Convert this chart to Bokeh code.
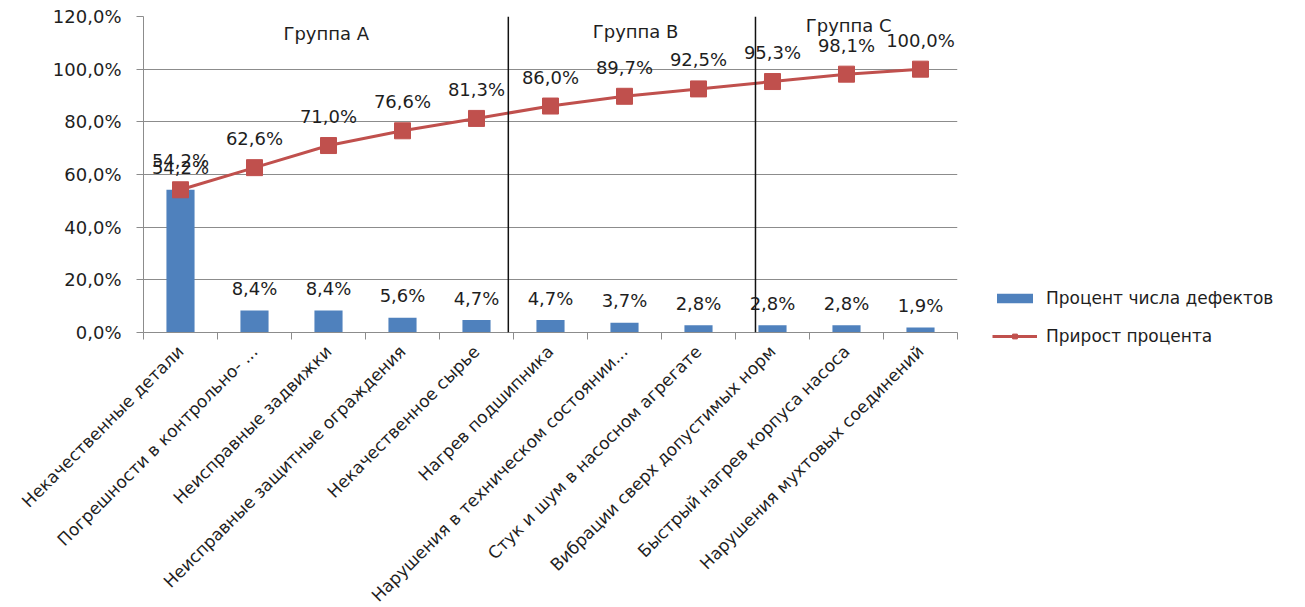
import math
from bokeh.plotting import figure
from bokeh.models import (ColumnDataSource, Range1d, FixedTicker, LabelSet, Legend,
                          LegendItem, Span)
from bokeh.core.properties import value
from bokeh.embed import file_html
from bokeh.resources import INLINE

categories = [
    "Некачественные детали",
    "Погрешности в контрольно- ...",
    "Неисправные задвижки",
    "Неисправные защитные ограждения",
    "Некачественное сырье",
    "Нагрев подшипника",
    "Нарушения в техническом состоянии...",
    "Стук и шум в насосном агрегате",
    "Вибрации сверх допустимых норм",
    "Быстрый нагрев корпуса насоса",
    "Нарушения мухтовых соединений",
]
defect_pct = [54.2, 8.4, 8.4, 5.6, 4.7, 4.7, 3.7, 2.8, 2.8, 2.8, 1.9]
cumulative_pct = [54.2, 62.6, 71.0, 76.6, 81.3, 86.0, 89.7, 92.5, 95.3, 98.1, 100.0]
y_ticks = [0, 20, 40, 60, 80, 100, 120]
y_tick_labels = ["0,0%", "20,0%", "40,0%", "60,0%", "80,0%", "100,0%", "120,0%"]
group_names = ["Группа А", "Группа В", "Группа С"]
group_label_x = [2.47, 6.65, 9.53]
group_label_y = [113.5, 114.3, 116.6]
group_bounds = [4.93, 8.27]

FONT = "DejaVu Sans"
TXT = "#1e1e1e"
BLUE = "#4F81BD"
RED = "#C0504D"
GRID = "#8c8c8c"

def fmt(v):
    return f"{v:.1f}".replace(".", ",") + "%"

n = len(categories)
centers = [i + 0.5 for i in range(n)]
bounds = [i for i in range(n + 1)]

src = ColumnDataSource(dict(
    x=centers, bar=defect_pct, cum=cumulative_pct,
    bar_lbl=[fmt(v) for v in defect_pct], cum_lbl=[fmt(v) for v in cumulative_pct],
))

p = figure(frame_width=814, frame_height=316, output_backend="svg", toolbar_location=None,
           x_range=Range1d(0, n), y_range=Range1d(0, 120),
           min_border_left=143, min_border_top=16, min_border_bottom=273,
           min_border_right=0)
p.outline_line_color = None
p.background_fill_color = "white"
p.border_fill_color = "white"

# grid
p.xgrid.grid_line_color = None
p.ygrid.ticker = FixedTicker(ticks=y_ticks)
p.ygrid.grid_line_color = GRID
p.ygrid.grid_line_width = 1

# y axis
p.yaxis.ticker = FixedTicker(ticks=y_ticks)
p.yaxis.major_label_overrides = {t: l for t, l in zip(y_ticks, y_tick_labels)}
p.yaxis.axis_line_color = GRID
p.yaxis.major_tick_line_color = GRID
p.yaxis.major_tick_in = 0
p.yaxis.major_tick_out = 7
p.yaxis.minor_tick_line_color = None
p.yaxis.major_label_text_font = FONT
p.yaxis.major_label_text_font_size = "18px"
p.yaxis.major_label_text_color = TXT
p.yaxis.major_label_standoff = 15

# x axis
p.xaxis.ticker = FixedTicker(ticks=centers, minor_ticks=bounds)
p.xaxis.major_label_overrides = {c: l for c, l in zip(centers, categories)}
p.xaxis.major_label_orientation = math.pi / 4
p.xaxis.axis_line_color = GRID
p.xaxis.major_tick_line_color = None
p.xaxis.minor_tick_line_color = GRID
p.xaxis.minor_tick_in = 0
p.xaxis.minor_tick_out = 7
p.xaxis.major_label_text_font = FONT
p.xaxis.major_label_text_font_size = "17px"
p.xaxis.major_label_text_color = TXT
p.xaxis.major_label_standoff = 9

# group separators
for b in group_bounds:
    p.add_layout(Span(location=b, dimension="height", line_color="#111111", line_width=1.5))

bars = p.vbar(x="x", top="bar", width=0.38, source=src, fill_color=BLUE, line_color=None)
line = p.line(x="x", y="cum", source=src, line_color=RED, line_width=3)
marks = p.scatter(x="x", y="cum", source=src, marker="square", size=16,
                  fill_color=RED, line_color=RED)

p.add_layout(LabelSet(x="x", y="bar", text="bar_lbl", source=src, y_offset=22,
                      text_align="center", text_baseline="middle",
                      text_font=value(FONT), text_font_size="18px", text_color=TXT))
p.add_layout(LabelSet(x="x", y="cum", text="cum_lbl", source=src, y_offset=29,
                      text_align="center", text_baseline="middle",
                      text_font=value(FONT), text_font_size="18px", text_color=TXT))

gsrc = ColumnDataSource(dict(x=group_label_x, y=group_label_y, t=group_names))
p.text(x="x", y="y", text="t", source=gsrc, text_align="center", text_baseline="middle",
       text_font=value(FONT), text_font_size="18px", text_color=TXT)

legend = Legend(items=[
    LegendItem(label="Процент числа дефектов", renderers=[bars]),
    LegendItem(label="Прирост процента", renderers=[line, marks]),
], location=(35, -14), orientation="vertical")
legend.glyph_width = 45
legend.glyph_height = 12
legend.label_height = 20
legend.spacing = 18
legend.padding = 0
legend.margin = 0
legend.label_standoff = 9
legend.border_line_color = None
legend.background_fill_alpha = 0
legend.label_text_font = FONT
legend.label_text_font_size = "17px"
legend.label_text_color = TXT
p.add_layout(legend, "right")

open("out.html", "w").write(file_html(p, INLINE))
